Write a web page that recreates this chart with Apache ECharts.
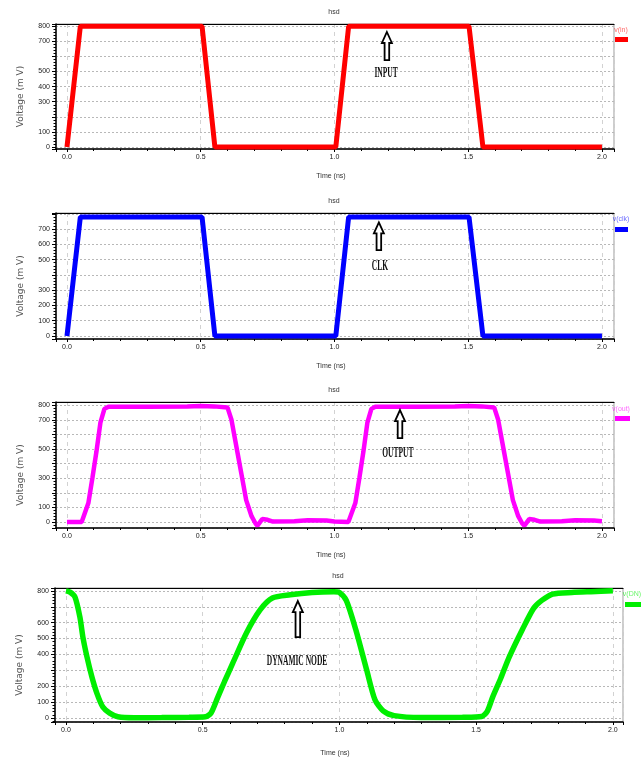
<!DOCTYPE html>
<html><head><meta charset="utf-8">
<script src="https://cdn.jsdelivr.net/npm/echarts@6/dist/echarts.min.js"></script>
<style>html,body{margin:0;padding:0;background:#fff}#c{width:643px;height:758px}</style>
</head><body><div id="c"></div>
<script>
// ---- data ----
const inputT = [0, 0.05, 0.505, 0.553, 1.005, 1.053, 1.503, 1.555, 2.0];
const inputV = [0, 800, 800, 0, 0, 800, 800, 0, 0];

const clkT = [0, 0.05, 0.505, 0.553, 1.005, 1.053, 1.503, 1.555, 2.0];
const clkV = [0, 780, 780, 0, 0, 780, 780, 0, 0];

const outT = [0, 0.055, 0.08, 0.095, 0.11, 0.125, 0.14, 0.155, 0.2, 0.3, 0.45, 0.5, 0.55, 0.6, 0.615, 0.635, 0.655, 0.67, 0.69, 0.705, 0.712, 0.73, 0.75, 0.77, 0.85, 0.9, 0.97, 1.0,
              1.052, 1.078, 1.093, 1.108, 1.123, 1.138, 1.153, 1.2, 1.3, 1.45, 1.5, 1.55, 1.597, 1.612, 1.632, 1.652, 1.667, 1.687, 1.702, 1.71, 1.728, 1.748, 1.77, 1.85, 1.9, 1.97, 2.0];
const outV = [0, 0, 130, 300, 480, 680, 775, 790, 790, 790, 792, 795, 792, 785, 700, 500, 300, 150, 40, -10, -25, 20, 15, 3, 5, 12, 10, 3,
              0, 130, 300, 480, 680, 775, 790, 790, 790, 792, 795, 792, 785, 700, 500, 300, 150, 40, -10, -25, 20, 15, 3, 5, 12, 10, 5];

const dnT = [0, 0.015, 0.033, 0.051, 0.062, 0.077, 0.095, 0.113, 0.135, 0.16, 0.19, 0.25, 0.35, 0.45, 0.51, 0.53, 0.555, 0.58, 0.61, 0.66, 0.71, 0.755, 0.82, 0.9, 0.98, 1.0,
             1.025, 1.06, 1.1, 1.13, 1.16, 1.2, 1.3, 1.45, 1.52, 1.54, 1.56, 1.59, 1.62, 1.67, 1.71, 1.74, 1.78, 1.85, 1.92, 2.0];
const dnV = [800, 792, 761, 635, 509, 384, 258, 157, 69, 31, 8, 2, 3, 5, 8, 30, 130, 230, 345, 535, 680, 755, 775, 790, 795, 790,
             740, 555, 300, 115, 45, 15, 3, 5, 10, 40, 130, 250, 380, 560, 690, 740, 780, 790, 795, 800];

const yLabels1 = [0, 100, 300, 400, 500, 700, 800];
const yLabels2 = [0, 100, 200, 300, 500, 600, 700];
const yLabels3 = [0, 100, 300, 500, 700, 800];
const yLabels4 = [0, 100, 200, 400, 500, 600, 800];
const xLabels = [0, 0.5, 1.0, 1.5, 2.0];

const seriesNames = ['v(in)', 'v(clk)', 'v(out)', 'v(DN)'];
const noteTexts = ['INPUT', 'CLK', 'OUTPUT', 'DYNAMIC NODE'];
const titleText = 'hsd';
const xName = 'Time (ns)';
const yName = 'Voltage (m V)';

// ---- layout / style ----
const panels = [
  { t: inputT, v: inputV, yl: yLabels1, color: '#ff0000', lw: 5, grid: {left: 56, top: 24, width: 558, height: 125}, x: [-0.041, 2.045], y: [-13, 815],
    note: {tipT: 1.196, tipV: 762, baseV: 576, textT: 1.193, textV: 490}, leg: {rx: 615, ry: 37, rw: 13, tx: 621, ty: 30} },
  { t: clkT, v: clkV, yl: yLabels2, color: '#0000ff', lw: 5, grid: {left: 56, top: 213, width: 558, height: 126}, x: [-0.041, 2.045], y: [-20, 806],
    note: {tipT: 1.166, tipV: 745, baseV: 562, textT: 1.17, textV: 458}, leg: {rx: 615, ry: 227, rw: 13, tx: 621, ty: 219} },
  { t: outT, v: outV, yl: yLabels3, color: '#ff00ff', lw: 4.5, grid: {left: 56, top: 402, width: 558, height: 126}, x: [-0.041, 2.045], y: [-41, 822],
    note: {tipT: 1.245, tipV: 767, baseV: 575, textT: 1.237, textV: 473}, leg: {rx: 615, ry: 416, rw: 15, tx: 621, ty: 409} },
  { t: dnT, v: dnV, yl: yLabels4, color: '#00ee00', lw: 5.5, grid: {left: 55, top: 588, width: 568, height: 134}, x: [-0.040, 2.037], y: [-25, 818],
    note: {tipT: 0.848, tipV: 736, baseV: 509, textT: 0.845, textV: 358}, leg: {rx: 625, ry: 602, rw: 16, tx: 632, ty: 594} }
];

const narrow = '"Liberation Sans Narrow", "Arial Narrow", sans-serif';
const grids = [], xAxes = [], yAxes = [], series = [];
panels.forEach((p, i) => {
  grids.push(Object.assign({show: true, borderColor: '#9a9a9a', borderWidth: 1, backgroundColor: '#fff', containLabel: false}, p.grid));
  xAxes.push({
    type: 'value', gridIndex: i, min: p.x[0], max: p.x[1], splitNumber: 4,
    axisLine: {show: true, onZero: false, lineStyle: {color: '#000', width: 1.5}},
    axisTick: {show: true, length: 3, lineStyle: {color: '#000'}},
    minorTick: {show: true, splitNumber: 5, length: 2, lineStyle: {color: '#000'}},
    axisLabel: {
      fontSize: 7, color: '#222', margin: 5, fontFamily: narrow,
      formatter: v => (xLabels.some(l => Math.abs(l - v) < 1e-6) ? v.toFixed(1) : '')
    },
    splitLine: {show: true, lineStyle: {type: [4, 4], color: '#d2d2d2', width: 1}},
    name: xName, nameLocation: 'middle', nameGap: i === 3 ? 28 : 24,
    nameTextStyle: {fontSize: 7, color: '#333', fontFamily: narrow, padding: [0, 0, 0, -8]}
  });
  xAxes.push({
    type: 'value', gridIndex: i, min: p.x[0], max: p.x[1], position: 'top',
    axisLine: {show: true, onZero: false, lineStyle: {color: '#000', width: 1.2}},
    axisTick: {show: false}, axisLabel: {show: false}, splitLine: {show: false}
  });
  yAxes.push({
    type: 'value', gridIndex: i, min: p.y[0], max: p.y[1], splitNumber: 8,
    axisLine: {show: true, onZero: false, lineStyle: {color: '#000', width: 1.5}},
    axisTick: {show: true, length: 4, lineStyle: {color: '#000'}},
    minorTick: {show: true, splitNumber: 5, length: 2.5, lineStyle: {color: '#000'}},
    axisLabel: {
      fontSize: 7, color: '#222', margin: 6, fontFamily: narrow,
      formatter: v => (p.yl.some(l => Math.abs(l - v) < 1e-6) ? String(Math.round(v)) : '')
    },
    splitLine: {show: true, lineStyle: {type: [2, 2], color: '#b8b8b8', width: 1}},
    name: yName, nameLocation: 'middle', nameGap: 31,
    nameTextStyle: {fontSize: 9, color: '#555', fontFamily: '"DejaVu Sans", sans-serif', padding: [0, 20, 0, 0]}
  });
  series.push({
    name: seriesNames[i], type: 'line', xAxisIndex: i * 2, yAxisIndex: i,
    data: p.t.map((t, k) => [t, p.v[k]]),
    showSymbol: false, symbol: 'none', smooth: i === 3 ? 0.25 : false,
    lineStyle: {color: p.color, width: p.lw}, itemStyle: {color: p.color},
    clip: true, z: 3, animation: false
  });
});

const chart = echarts.init(document.getElementById('c'), null, {renderer: 'canvas'});
chart.setOption({
  backgroundColor: '#fff', animation: false,
  grid: grids, xAxis: xAxes, yAxis: yAxes, series: series
});

// annotations, titles, legends positioned through the chart's own coordinate system
const graphics = [];
panels.forEach((p, i) => {
  const g = p.grid;
  graphics.push({type: 'text', x: g.left + g.width / 2 - 1, y: g.top - 12,
    style: {text: titleText, fontSize: 7, fill: '#333', textAlign: 'center', textVerticalAlign: 'middle', fontFamily: narrow}});
  graphics.push({type: 'text', x: p.leg.tx, y: p.leg.ty,
    style: {text: seriesNames[i], fontSize: 7, fill: p.color, opacity: 0.6, textAlign: 'center', textVerticalAlign: 'middle', fontFamily: narrow}});
  graphics.push({type: 'rect', shape: {x: p.leg.rx, y: p.leg.ry, width: p.leg.rw, height: 5}, style: {fill: p.color}});

  const tip = chart.convertToPixel({gridIndex: i}, [p.note.tipT, p.note.tipV]);
  const base = chart.convertToPixel({gridIndex: i}, [p.note.tipT, p.note.baseV]);
  const txt = chart.convertToPixel({gridIndex: i}, [p.note.textT, p.note.textV]);
  const x = tip[0], yt = tip[1], yb = base[1], hh = 11, hw = 5, sw = 2.3;
  graphics.push({type: 'polygon', z: 10,
    shape: {points: [[x, yt], [x + hw, yt + hh], [x + sw, yt + hh], [x + sw, yb], [x - sw, yb], [x - sw, yt + hh], [x - hw, yt + hh]]},
    style: {fill: '#fff', stroke: '#000', lineWidth: 1.8}});
  graphics.push({type: 'text', z: 10, x: txt[0], y: txt[1], scaleX: 0.5,
    style: {text: noteTexts[i], fontSize: 15, fontWeight: 'bold', fill: '#111', fontFamily: '"Liberation Serif", "Times New Roman", serif',
      textAlign: 'center', textVerticalAlign: 'middle'}});
});
chart.setOption({graphic: graphics});
</script>
</body></html>
